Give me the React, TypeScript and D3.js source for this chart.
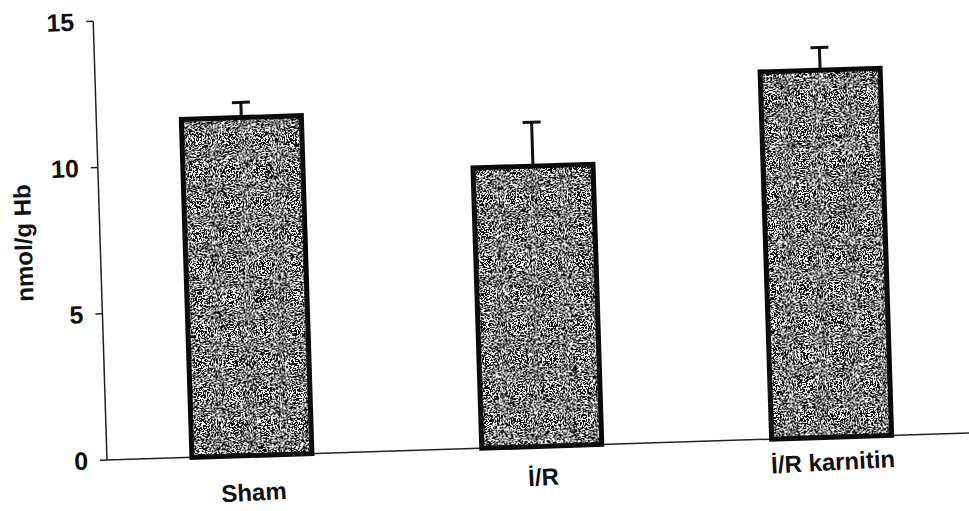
import React, { useEffect, useRef } from "react";
import * as d3 from "d3";

const categories = ["Sham", "İ/R", "İ/R karnitin"];
const means = [11.55, 9.58, 12.55];
const errors = [0.52, 1.5, 0.77];
const yTicks = [0, 5, 10, 15];
const yLabel = "nmol/g Hb";

const App = () => {
  const svgRef = useRef<SVGSVGElement>(null);

  useEffect(() => {
    const svg = d3.select(svgRef.current);
    svg.selectAll("*").remove();

    const width = 969;
    const height = 511;
    const origin = { x: 107, y: 460 };
    const plotW = 870;
    const plotH = 439;
    const font = "'Liberation Sans', Arial, sans-serif";

    // speckled grey fill like the scanned bars
    const defs = svg.append("defs");
    const f = defs.append("filter")
      .attr("id", "grain")
      .attr("x", 0).attr("y", 0).attr("width", 1).attr("height", 1)
      .attr("color-interpolation-filters", "sRGB");
    f.append("feTurbulence")
      .attr("type", "fractalNoise")
      .attr("baseFrequency", 0.7)
      .attr("numOctaves", 3)
      .attr("seed", 7)
      .attr("result", "noise");
    f.append("feColorMatrix")
      .attr("in", "noise")
      .attr("type", "matrix")
      .attr("values", "0.33 0.33 0.33 0 0  0.33 0.33 0.33 0 0  0.33 0.33 0.33 0 0  0 0 0 0 1")
      .attr("result", "grey");
    const ct = f.append("feComponentTransfer").attr("in", "grey").attr("result", "bw");
    ["feFuncR", "feFuncG", "feFuncB"].forEach((fn) =>
      ct.append(fn).attr("type", "discrete").attr("tableValues", "0.05 1")
    );
    f.append("feComposite").attr("in", "bw").attr("in2", "SourceGraphic").attr("operator", "in");

    const x = d3.scaleBand<string>()
      .domain(categories)
      .range([0, plotW])
      .paddingInner(0.586)
      .paddingOuter(0.293);

    const y = d3.scaleLinear().domain([0, 15]).range([0, -plotH]);

    // the scan is tilted a little
    const g = svg.append("g")
      .attr("transform", `translate(${origin.x},${origin.y}) rotate(-1.8)`);

    g.append("line")
      .attr("x1", 0).attr("y1", 0).attr("x2", 0).attr("y2", y(15))
      .attr("stroke", "#222").attr("stroke-width", 1.5);
    g.append("line")
      .attr("x1", 0).attr("y1", 0).attr("x2", plotW + 20).attr("y2", 0)
      .attr("stroke", "#222").attr("stroke-width", 1.5);

    g.selectAll(".tick")
      .data(yTicks)
      .enter()
      .append("line")
      .attr("x1", -7).attr("x2", 0)
      .attr("y1", (d) => y(d)).attr("y2", (d) => y(d))
      .attr("stroke", "#222").attr("stroke-width", 1.5);

    g.selectAll(".tlabel")
      .data(yTicks)
      .enter()
      .append("text")
      .attr("x", -19)
      .attr("y", (d) => y(d))
      .attr("dy", "0.36em")
      .attr("text-anchor", "end")
      .attr("font-family", font)
      .attr("font-weight", "bold")
      .attr("font-size", 25)
      .attr("fill", "#111")
      .text((d) => d);

    g.append("text")
      .attr("transform", `translate(-77,${y(7.5)}) rotate(-90)`)
      .attr("dy", "0.36em")
      .attr("text-anchor", "middle")
      .attr("font-family", font)
      .attr("font-weight", "bold")
      .attr("font-size", 24)
      .attr("fill", "#111")
      .text(yLabel);

    const bw = x.bandwidth();

    // error bars (upper only)
    categories.forEach((c, i) => {
      const cx = (x(c) ?? 0) + bw / 2;
      g.append("line")
        .attr("x1", cx).attr("x2", cx)
        .attr("y1", y(means[i])).attr("y2", y(means[i] + errors[i]))
        .attr("stroke", "#111").attr("stroke-width", 3);
      g.append("line")
        .attr("x1", cx - 9).attr("x2", cx + 9)
        .attr("y1", y(means[i] + errors[i])).attr("y2", y(means[i] + errors[i]))
        .attr("stroke", "#111").attr("stroke-width", 3);
    });

    g.selectAll(".fill")
      .data(means)
      .enter()
      .append("rect")
      .attr("x", (_, i) => x(categories[i]) ?? 0)
      .attr("y", (d) => y(d))
      .attr("width", bw)
      .attr("height", (d) => -y(d))
      .attr("fill", "#fff")
      .attr("filter", "url(#grain)");

    g.selectAll(".bar")
      .data(means)
      .enter()
      .append("rect")
      .attr("x", (_, i) => x(categories[i]) ?? 0)
      .attr("y", (d) => y(d))
      .attr("width", bw)
      .attr("height", (d) => -y(d))
      .attr("fill", "none")
      .attr("stroke", "#0a0a0a")
      .attr("stroke-width", 5);

    // category labels sit on a slightly steeper line in the scan
    const lg = svg.append("g")
      .attr("transform", `translate(${origin.x},${origin.y}) rotate(-3)`);
    lg.selectAll("text")
      .data(categories)
      .enter()
      .append("text")
      .attr("x", (d) => (x(d) ?? 0) + bw / 2)
      .attr("y", 39.6)
      .attr("dy", "0.36em")
      .attr("text-anchor", "middle")
      .attr("font-family", font)
      .attr("font-weight", "bold")
      .attr("font-size", 24)
      .attr("fill", "#111")
      .text((d) => d);

    svg.attr("width", width).attr("height", height);
  }, []);

  return (
    <svg
      ref={svgRef}
      width={969}
      height={511}
      style={{ position: "absolute", left: 0, top: 0, background: "#fff" }}
    />
  );
};

export default App;
